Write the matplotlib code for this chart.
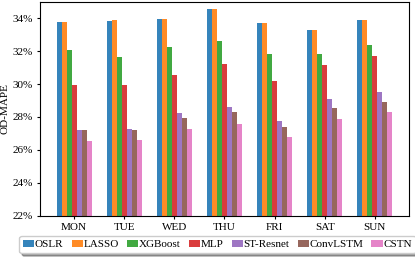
import matplotlib
matplotlib.use("Agg")
import matplotlib.pyplot as plt
import numpy as np
from matplotlib.ticker import MultipleLocator, FuncFormatter

plt.rcParams['font.family'] = ['Liberation Serif', 'DejaVu Serif']
plt.rcParams['font.size'] = 8

days = ["MON", "TUE", "WED", "THU", "FRI", "SAT", "SUN"]
models = ["OSLR", "LASSO", "XGBoost", "MLP", "ST-Resnet", "ConvLSTM", "CSTN"]

oslr      = [33.77, 33.85, 33.93, 34.52, 33.70, 33.28, 33.89]
lasso     = [33.78, 33.86, 33.93, 34.52, 33.70, 33.30, 33.89]
xgboost   = [32.08, 31.63, 32.26, 32.63, 31.82, 31.84, 32.38]
mlp       = [29.96, 29.95, 30.55, 31.23, 30.20, 31.15, 31.67]
st_resnet = [27.20, 27.30, 28.25, 28.60, 27.73, 29.10, 29.50]
convlstm  = [27.20, 27.20, 27.95, 28.30, 27.40, 28.53, 28.93]
cstn      = [26.53, 26.60, 27.30, 27.60, 26.77, 27.85, 28.30]

series = [oslr, lasso, xgboost, mlp, st_resnet, convlstm, cstn]
colors = plt.rcParams['axes.prop_cycle'].by_key()['color'][:7]

fig, ax = plt.subplots(figsize=(4.15, 2.58), dpi=100)
fig.subplots_adjust(left=0.0964, right=0.9855, top=0.994, bottom=0.163)

x = np.arange(len(days))
w = 0.1
for i, (vals, name) in enumerate(zip(series, models)):
    ax.bar(x + (i - 3) * w, vals, width=w, color=colors[i], alpha=0.9, label=name)

ax.set_xticks(x)
ax.set_xticklabels(days)
ax.tick_params(length=2.5, pad=2.5)
ax.set_xlim(-0.68, 6.68)
ax.set_ylim(22, 35)
ax.yaxis.set_major_locator(MultipleLocator(2))
ax.yaxis.set_major_formatter(FuncFormatter(lambda v, pos: f"{v:.0f}%"))
ax.set_ylabel("OD-MAPE", labelpad=2)

fig.legend(loc="upper center", bbox_to_anchor=(217.5 / 415, 1 - 236 / 258),
           bbox_transform=fig.transFigure, ncol=7, shadow=True,
           handlelength=1.0, handleheight=0.6, handletextpad=0.05, columnspacing=0.75,
           borderpad=0.35, borderaxespad=0.0, fontsize=8)

fig.savefig("out.png", dpi=100)
